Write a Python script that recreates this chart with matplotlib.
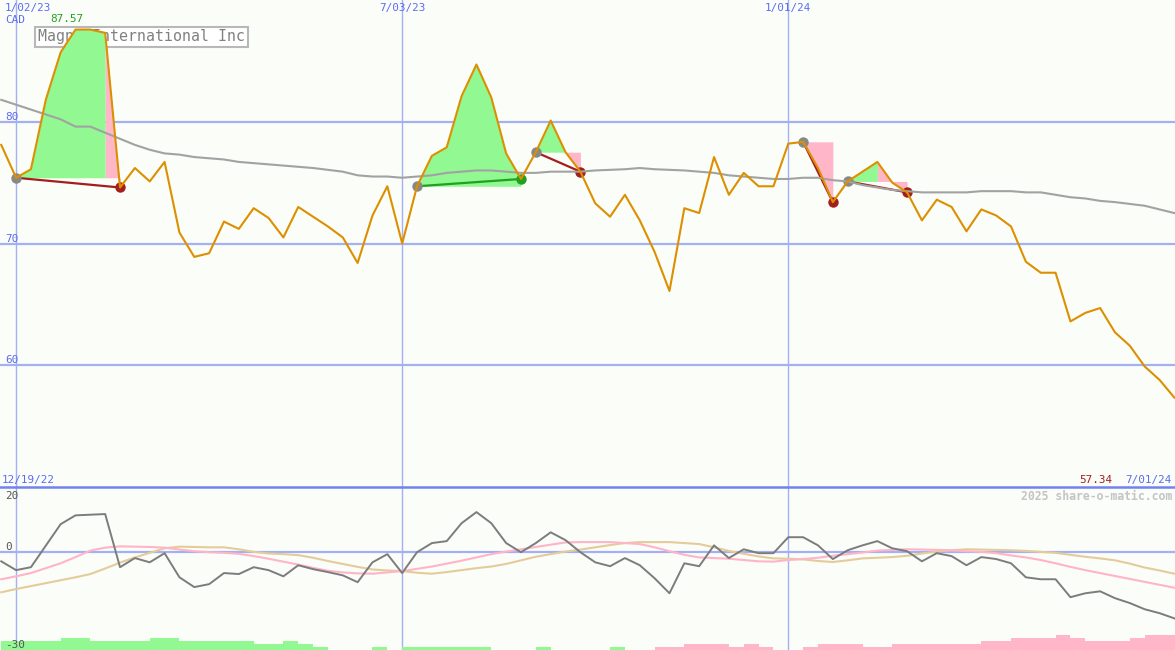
import matplotlib
matplotlib.use('Agg')
import matplotlib.pyplot as plt
import numpy as np
import pandas as pd

# weekly closes, Magna International (CAD)
weeks = pd.date_range('2022-12-26', '2024-07-01', freq='7D')
price = [78.1, 75.4, 76.1, 81.8, 85.7, 87.57, 87.57, 87.3, 74.6, 76.2,
         75.1, 76.7, 70.9, 68.9, 69.2, 71.8, 71.2, 72.9, 72.1, 70.5,
         73.0, 72.2, 71.4, 70.5, 68.4, 72.3, 74.7, 70.0, 74.7, 77.2,
         77.9, 82.1, 84.7, 82.0, 77.4, 75.3, 77.5, 80.1, 77.5, 75.9,
         73.3, 72.2, 74.0, 71.9, 69.3, 66.1, 72.9, 72.5, 77.1, 74.0,
         75.8, 74.7, 74.7, 78.2, 78.35, 76.2, 73.4, 75.1, 75.9, 76.7,
         75.0, 74.2, 71.9, 73.6, 73.0, 71.0, 72.8, 72.3, 71.4, 68.5,
         67.6, 67.6, 63.6, 64.3, 64.7, 62.7, 61.6, 59.9, 58.8, 57.34]
price_ma = [81.8, 81.4, 81.0, 80.6, 80.2, 79.6, 79.6, 79.1, 78.6, 78.1,
            77.7, 77.4, 77.3, 77.1, 77.0, 76.9, 76.7, 76.6, 76.5, 76.4,
            76.3, 76.2, 76.05, 75.9, 75.6, 75.5, 75.5, 75.4, 75.5, 75.6,
            75.8, 75.9, 76.0, 76.0, 75.9, 75.8, 75.8, 75.9, 75.9, 75.9,
            76.0, 76.05, 76.1, 76.2, 76.1, 76.05, 76.0, 75.9, 75.8, 75.6,
            75.5, 75.4, 75.3, 75.3, 75.4, 75.4, 75.2, 75.1, 74.8, 74.6,
            74.4, 74.3, 74.2, 74.2, 74.2, 74.2, 74.3, 74.3, 74.3, 74.2,
            74.2, 74.0, 73.8, 73.7, 73.5, 73.4, 73.25, 73.1, 72.8, 72.5]

# lower panel
osc = [-2.8, -5.5, -4.6, 2.0, 8.6, 11.3, 11.5, 11.7, -4.6, -1.8,
       -3.1, -0.3, -7.7, -10.7, -9.8, -6.4, -6.7, -4.6, -5.5, -7.4,
       -4.0, -5.2, -6.1, -7.1, -9.2, -3.1, -0.6, -6.4, 0.0, 2.8,
       3.4, 8.9, 12.3, 8.9, 2.8, 0.0, 2.8, 6.1, 3.7, 0.0,
       -3.1, -4.3, -1.8, -4.0, -8.0, -12.6, -3.4, -4.3, 2.1, -1.8,
       0.9, -0.3, -0.3, 4.6, 4.6, 2.1, -2.1, 0.6, 2.1, 3.4,
       1.2, 0.3, -2.8, -0.3, -1.2, -4.0, -1.5, -2.1, -3.4, -7.7,
       -8.3, -8.3, -13.8, -12.6, -12.0, -14.1, -15.6, -17.5, -18.7, -20.3]
osc_fast = [-8.3, -7.4, -6.4, -4.9, -3.4, -1.5, 0.5, 1.4, 1.8, 1.7,
            1.6, 1.4, 0.8, 0.3, 0.0, -0.2, -0.5, -1.2, -2.0, -2.9,
            -3.8, -4.8, -5.7, -6.2, -6.5, -6.6, -6.2, -5.8, -5.1, -4.4,
            -3.5, -2.6, -1.6, -0.6, 0.2, 0.9, 1.6, 2.3, 3.0, 3.1,
            3.1, 3.1, 2.8, 2.5, 1.5, 0.3, -0.8, -1.6, -1.8, -2.0,
            -2.4, -2.8, -2.9, -2.4, -2.1, -1.7, -1.1, -0.6, -0.1, 0.5,
            0.7, 0.9, 0.8, 0.7, 0.6, 0.3, 0.1, -0.3, -1.0, -1.6,
            -2.4, -3.4, -4.5, -5.5, -6.4, -7.3, -8.2, -9.1, -10.0, -10.9]
osc_slow = [-12.3, -11.3, -10.4, -9.5, -8.6, -7.7, -6.7, -5.0, -3.2, -1.6,
            -0.2, 1.2, 1.7, 1.6, 1.5, 1.5, 0.9, 0.1, -0.4, -0.6,
            -0.9, -1.7, -2.7, -3.6, -4.5, -5.3, -5.6, -5.8, -6.3, -6.6,
            -6.1, -5.5, -4.9, -4.4, -3.6, -2.5, -1.4, -0.6, 0.2, 0.8,
            1.5, 2.2, 2.8, 3.1, 3.1, 3.1, 2.8, 2.5, 1.5, 0.4,
            -0.5, -1.3, -1.9, -2.0, -2.2, -2.7, -3.0, -2.5, -1.9, -1.7,
            -1.5, -1.1, -0.4, 0.2, 0.6, 0.9, 0.8, 0.7, 0.6, 0.4,
            0.1, -0.2, -0.8, -1.4, -1.9, -2.5, -3.5, -4.7, -5.6, -6.6]
# + green, - pink
balance = [2.8, 2.8, 2.8, 2.8, 3.7, 3.7, 2.8, 2.8, 2.8, 2.8,
           3.7, 3.7, 2.8, 2.8, 2.8, 2.8, 2.8, 1.8, 1.8, 2.8,
           1.8, 0.9, 0, 0, 0, 0.9, 0, 0.9, 0.9, 0.9,
           0.9, 0.9, 0.9, 0, 0, 0, 0.9, 0, 0, 0,
           0, 0.9, 0, 0, -0.9, -0.9, -1.8, -1.8, -1.8, -0.9,
           -1.8, -0.9, 0, 0, -0.9, -1.8, -1.8, -1.8, -0.9, -0.9,
           -1.8, -1.8, -1.8, -1.8, -1.8, -1.8, -2.8, -2.8, -3.7, -3.7,
           -3.7, -4.6, -3.7, -2.8, -2.8, -2.8, -3.7, -4.6, -4.6, -4.6]

# trades: index of open, of last rising week, of close
trade_open = [1, 28, 36, 54, 57]
trade_turn = [7, 35, 38, 54, 59]
trade_close = [8, 35, 39, 56, 61]

grid_dates = pd.to_datetime(['2023-01-02', '2023-07-03', '2024-01-01'])
price_ticks = [60, 70, 80]
osc_ticks = [20, 0, -30]
title = 'Magna International Inc'

BG = '#fbfdf9'
GRID = '#a3b0f2'
BLUE_TXT = '#5c6cf4'
ORANGE = '#dc9000'
GREEN_FILL = '#92f892'
PINK_FILL = '#ffb6c9'
DARK_RED = '#a41e1e'
GREEN = '#22a022'
MONO = 'DejaVu Sans Mono'
FS = 7.9

W, H = 1175, 650
fig = plt.figure(figsize=(W / 100, H / 100), dpi=100, facecolor=BG)
top_h = 487 / H
ax1 = fig.add_axes([0, 1 - top_h, 1, top_h])
ax2 = fig.add_axes([0, 0, 1, 1 - top_h], sharex=ax1)
for ax in (ax1, ax2):
    ax.set_facecolor(BG)
    for s in ax.spines.values():
        s.set_visible(False)
    ax.tick_params(left=False, bottom=False, labelleft=False, labelbottom=False)

xmin = weeks[0] - pd.Timedelta(hours=14)
xmax = weeks[-1] + pd.Timedelta(hours=7)
ax1.set_xlim(xmin, xmax)
ax1.set_ylim(50, 90)
ax2.set_ylim(-30, 20)

p = np.array(price)

# grid
for v in price_ticks:
    ax1.axhline(v, color=GRID, lw=1.6, zorder=0.5)
    ax1.text(5 / W, v, str(v), transform=ax1.get_yaxis_transform(), color=BLUE_TXT,
             fontsize=FS, family=MONO, va='bottom', ha='left')
for d in grid_dates:
    ax1.axvline(d, color=GRID, lw=1.0, zorder=0.5)
    ax2.axvline(d, color=GRID, lw=1.0, zorder=0.5)
    xpix = (d - xmin) / (xmax - xmin) * W
    lbl = f'{d.month}/{d:%d/%y}'
    if xpix < 25:
        ax1.text(5 / W, 1 - 3 / 487, lbl, transform=ax1.transAxes, color=BLUE_TXT,
                 fontsize=FS, family=MONO, va='top', ha='left')
    else:
        ax1.text(d, 1 - 3 / 487, lbl, transform=ax1.get_xaxis_transform(), color=BLUE_TXT,
                 fontsize=FS, family=MONO, va='top', ha='center')
ax1.text(5 / W, 1 - 20 / 487, 'CAD', transform=ax1.transAxes, color=BLUE_TXT,
         fontsize=FS, family=MONO, va='center', ha='left')

ax1.text(38 / W, 1 - 37 / 487, title, transform=ax1.transAxes, color='#808080',
         fontsize=10.7, family=MONO, va='center', ha='left', zorder=1.5,
         bbox=dict(boxstyle='square,pad=0.2', fc='white', ec='#b8b8b8', lw=1.5))

# trades
for o, t, c in zip(trade_open, trade_turn, trade_close):
    base = p[o]
    if t > o:
        ax1.fill_between(weeks[o:t + 1], p[o:t + 1], base, color=GREEN_FILL, lw=0, zorder=2)
    if c > t:
        ax1.fill_between(weeks[t:c + 1], p[t:c + 1], base, color=PINK_FILL, lw=0, zorder=2)
    win = p[c] > base
    col = GREEN if win else DARK_RED
    ax1.plot([weeks[o], weeks[c]], [base, p[c]], color=col, lw=1.6, zorder=3)
    ax1.plot(weeks[o], base, 'o', color='#888888', ms=7.5, mew=0, zorder=4)
    ax1.plot(weeks[c], p[c], 'o', color=col, ms=7.5, mew=0, zorder=4)

ax1.plot(weeks, price_ma, color='#a2a2a2', lw=1.5, zorder=5)
ax1.plot(weeks, price, color=ORANGE, lw=1.5, zorder=6)

imax = int(np.argmax(p))
ax1.annotate(f'{p[imax]:.2f}', (weeks[imax], p[imax]), xytext=(-6, 4),
             textcoords='offset points', color=GREEN, fontsize=FS, family=MONO,
             ha='center', va='bottom')

ax1.text(2 / W, 2 / 487, f'{weeks[0] - pd.Timedelta(days=7):%m/%d/%y}', transform=ax1.transAxes,
         color=BLUE_TXT, fontsize=FS, family=MONO, va='bottom', ha='left')
ax1.text(1172 / W, 2 / 487, f'{weeks[-1].month}/{weeks[-1]:%d/%y}', transform=ax1.transAxes,
         color=BLUE_TXT, fontsize=FS, family=MONO, va='bottom', ha='right')
ax1.text(1112 / W, 2 / 487, f'{p[-1]:.2f}', transform=ax1.transAxes,
         color=DARK_RED, fontsize=FS, family=MONO, va='bottom', ha='right')

# lower panel
ax2.axhline(0, color=GRID, lw=1.6, zorder=0.5)
ax2.axhline(20, color='#7282ee', lw=1.8, zorder=7, clip_on=False)
bal = np.array(balance)
bar_col = [GREEN_FILL if b > 0 else PINK_FILL for b in bal]
ax2.bar(weeks, np.abs(bal), width=7, bottom=-30, align='edge', color=bar_col, lw=0, zorder=1)
ax2.plot(weeks, osc_slow, color='#e4cc9a', lw=1.5, zorder=2)
ax2.plot(weeks, osc_fast, color='#ffb4c8', lw=1.5, zorder=3)
ax2.plot(weeks, osc, color='#7c7c7c', lw=1.4, zorder=4)

ax2.text(5 / W, 1 - 4 / 163, str(osc_ticks[0]), transform=ax2.transAxes, color='#555555',
         fontsize=FS, family=MONO, va='top', ha='left')
ax2.text(5 / W, 0, str(osc_ticks[1]), transform=ax2.get_yaxis_transform(), color='#555555',
         fontsize=FS, family=MONO, va='bottom', ha='left')
ax2.text(5 / W, -30, str(osc_ticks[2]), transform=ax2.get_yaxis_transform(), color='#555555',
         fontsize=FS, family=MONO, va='bottom', ha='left', zorder=5)
ax2.text(1172 / W, 1 - 9 / 163, '2025 share-o-matic.com', transform=ax2.transAxes,
         color='#c4c4c4', fontsize=8.3, family=MONO, fontweight='bold', va='center', ha='right')

fig.savefig('out.png', dpi=100, facecolor=BG)
